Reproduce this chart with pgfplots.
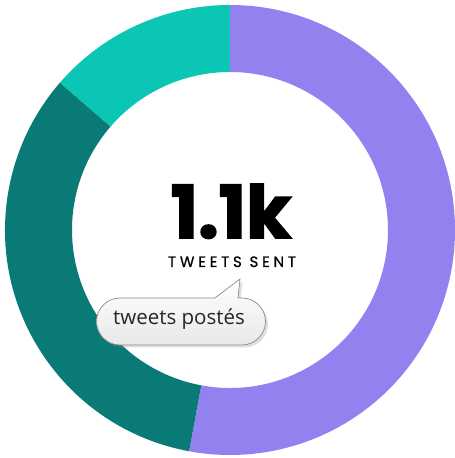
\documentclass[border=0pt]{standalone}
\usepackage{pgfplots}
\pgfplotsset{compat=1.18}
\usepackage{pgfplotstable}
\usepackage{fontspec}
\usetikzlibrary{shadows}
\setmainfont{Poppins}
\newfontfamily\bigfont{Poppins}[FakeBold=2.2]
\newfontfamily\bubblefont{Open Sans}
\newfontfamily\spacedfont{Poppins}[LetterSpace=25,FakeBold=0.6]
\definecolor{cPurple}{RGB}{147,129,240}
\definecolor{cDark}{RGB}{9,122,117}
\definecolor{cLight}{RGB}{11,198,181}
\pgfplotstableread{
label value
Purple 582
Dark 368
Light 150
}\donutdata
\begin{document}
\begin{tikzpicture}
\pgfplotstablegetelem{0}{value}\of\donutdata \let\va\pgfplotsretval
\pgfplotstablegetelem{1}{value}\of\donutdata \let\vb\pgfplotsretval
\pgfplotstablegetelem{2}{value}\of\donutdata \let\vc\pgfplotsretval
\pgfmathsetmacro\total{\va+\vb+\vc}
\pgfmathsetmacro\aA{90}
\pgfmathsetmacro\aB{90-360*(\va/\total)}
\pgfmathsetmacro\aC{\aB-360*(\vb/\total)}
\pgfmathsetmacro\aD{\aC-360*(\vc/\total)}
\def\cx{230}\def\cy{228}\def\Ro{225}\def\Ri{158}
\begin{axis}[x=1pt,y=1pt,xmin=0,xmax=455,ymin=0,ymax=458,hide axis,clip=false]
\coordinate (bl) at (axis cs:0,0);
\coordinate (tr) at (axis cs:455,458);
\fill[cPurple] (axis cs:{\cx+\Ro*cos(\aA)},{\cy+\Ro*sin(\aA)}) arc[start angle=\aA,end angle=\aB,radius=\Ro pt]
  -- (axis cs:{\cx+\Ri*cos(\aB)},{\cy+\Ri*sin(\aB)}) arc[start angle=\aB,end angle=\aA,radius=\Ri pt] -- cycle;
\fill[cDark] (axis cs:{\cx+\Ro*cos(\aB)},{\cy+\Ro*sin(\aB)}) arc[start angle=\aB,end angle=\aC,radius=\Ro pt]
  -- (axis cs:{\cx+\Ri*cos(\aC)},{\cy+\Ri*sin(\aC)}) arc[start angle=\aC,end angle=\aB,radius=\Ri pt] -- cycle;
\fill[cLight] (axis cs:{\cx+\Ro*cos(\aC)},{\cy+\Ro*sin(\aC)}) arc[start angle=\aC,end angle=\aD,radius=\Ro pt]
  -- (axis cs:{\cx+\Ri*cos(\aD)},{\cy+\Ri*sin(\aD)}) arc[start angle=\aD,end angle=\aC,radius=\Ri pt] -- cycle;
\node[anchor=base,inner sep=0pt,text depth=0pt,font=\fontsize{73}{73}\selectfont\bigfont\bfseries] at (axis cs:231,220) {1.1k};
\node[anchor=base,inner sep=0pt,text depth=0pt,font=\fontsize{15}{15}\selectfont\spacedfont] at (axis cs:232,191) {TWEETS SENT};
\draw[draw=black!45,line width=0.7pt,top color=white,bottom color=black!9,
  drop shadow={shadow xshift=2.5pt,shadow yshift=-2.5pt,opacity=0.25}]
  (axis cs:120,160) -- (axis cs:215,160) -- (axis cs:240,179) -- (axis cs:238,160) -- (axis cs:242,160)
  arc[start angle=90,end angle=-90,radius=23.5pt] -- (axis cs:120,113)
  arc[start angle=270,end angle=90,radius=23.5pt] -- cycle;
\node[anchor=base,inner sep=0pt,font=\fontsize{20.5}{21}\selectfont\bubblefont,text=black!85] at (axis cs:179,133) {tweets postés};
\end{axis}
\pgfresetboundingbox
\path[use as bounding box] (bl) rectangle (tr);
\end{tikzpicture}
\end{document}
